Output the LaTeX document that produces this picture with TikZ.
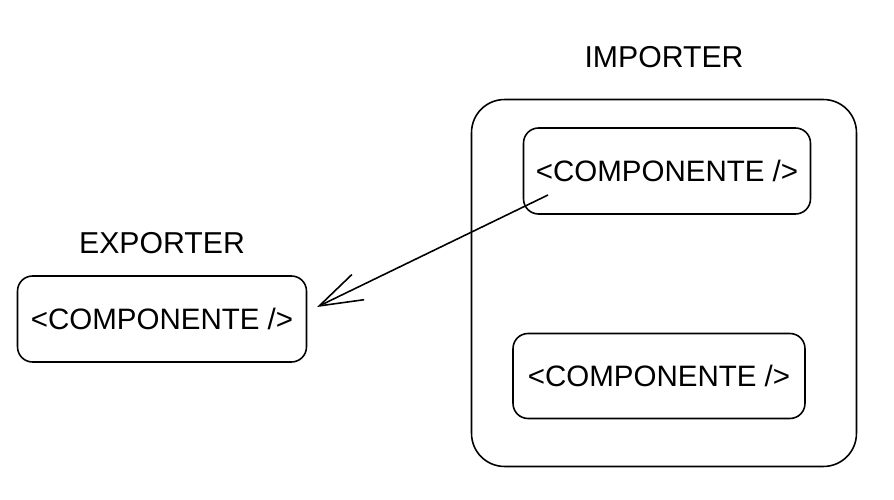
\documentclass[tikz,border=0pt]{standalone}
\usepackage{fontspec}
\setmainfont{Liberation Sans}
\usetikzlibrary{arrows.meta}

\begin{document}
\begin{tikzpicture}[x=0.02cm, y=-0.02cm,
        box/.style={draw, line width=0.9pt, rounded corners=0.3cm, inner sep=0pt,
                    minimum width=5.8cm, minimum height=1.72cm, font=\fontsize{16.8}{20}\selectfont},
        title/.style={font=\fontsize{17.2}{20}\selectfont}]
    \useasboundingbox (0, 0) rectangle (894, 500);

    % importer side
    \node[draw, line width=0.9pt, rounded corners=0.66cm, minimum width=7.7cm, minimum height=7.34cm] (importer) at (664, 283) {};
    \node[title] (importertitle) at (664, 57) {IMPORTER};
    \node[box, minimum width=5.74cm] (topcomp) at (667, 171) {<COMPONENTE />};
    \node[box, minimum width=5.84cm, minimum height=1.7cm] (bottomcomp) at (659, 376) {<COMPONENTE />};

    % exporter side
    \node[box, minimum width=5.78cm] (exporter) at (162, 319) {<COMPONENTE />};
    \node[title] (exportertitle) at (162, 243) {EXPORTER};

    \coordinate (tail) at (548, 195);
    \coordinate (head) at (317, 307);
    \draw[line width=0.9pt, -{Straight Barb[length=0.86cm, width=0.56cm]}] (tail) -- (head);
\end{tikzpicture}
\end{document}
